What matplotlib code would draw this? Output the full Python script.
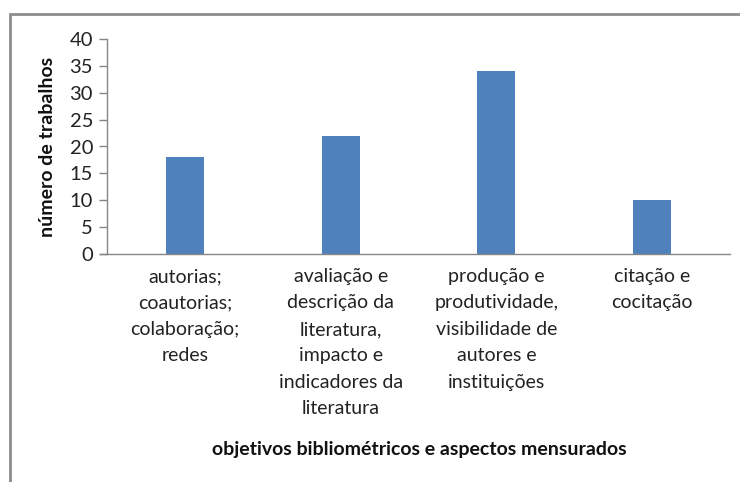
import matplotlib.pyplot as plt
import matplotlib.patches as mpatches

categories = [
    "autorias;\ncoautorias;\ncolaboração;\nredes",
    "avaliação e\ndescrição da\nliteratura,\nimpacto e\nindicadores da\nliteratura",
    "produção e\nprodutividade,\nvisibilidade de\nautores e\ninstituições",
    "citação e\ncocitação",
]
values = [18, 22, 34, 10]
y_ticks = [0, 5, 10, 15, 20, 25, 30, 35, 40]

plt.rcParams["font.family"] = ["Lato", "DejaVu Sans"]

W, H = 740, 482
fig = plt.figure(figsize=(W / 100, H / 100), dpi=100)

# axes box in pixels: x 107..730, y 39..254
ax = fig.add_axes([107 / W, 1 - 254 / H, (730 - 107) / W, (254 - 39) / H])

x = range(len(values))
ax.bar(x, values, width=0.245, color="#4F81BD", zorder=2)

ax.set_xlim(-0.5, 3.5)
ax.set_ylim(0, 40)
ax.set_yticks(y_ticks)
ax.set_xticks(list(x))
ax.set_xticklabels(categories, fontsize=14, color="#222222", linespacing=1.68)
ax.tick_params(axis="x", length=0, pad=10)
ax.tick_params(axis="y", length=6, width=1, color="#868686", labelsize=14.5,
               labelcolor="#222222", pad=4)

for s in ["top", "right"]:
    ax.spines[s].set_visible(False)
for s in ["left", "bottom"]:
    ax.spines[s].set_color("#868686")
    ax.spines[s].set_linewidth(1)
ax.spines["bottom"].set_bounds(-0.5 - 7 / 156, 3.5)

fig.text(48 / W, 1 - 147 / H, "número de trabalhos", rotation=90,
         ha="center", va="center", fontsize=14, fontweight="bold",
         color="#111111")
fig.text(419 / W, 1 - 450 / H, "objetivos bibliométricos e aspectos mensurados",
         ha="center", va="center", fontsize=14, fontweight="bold",
         color="#111111")

# outer chart frame (continues past right/bottom edges)
frame = mpatches.Rectangle((10 / W, -0.1), 1.2, 1 - 14 / H + 0.1,
                           transform=fig.transFigure, fill=False,
                           edgecolor="#8c8c8c", linewidth=2, clip_on=False)
fig.patches.append(frame)

fig.savefig("out.png", dpi=100)
